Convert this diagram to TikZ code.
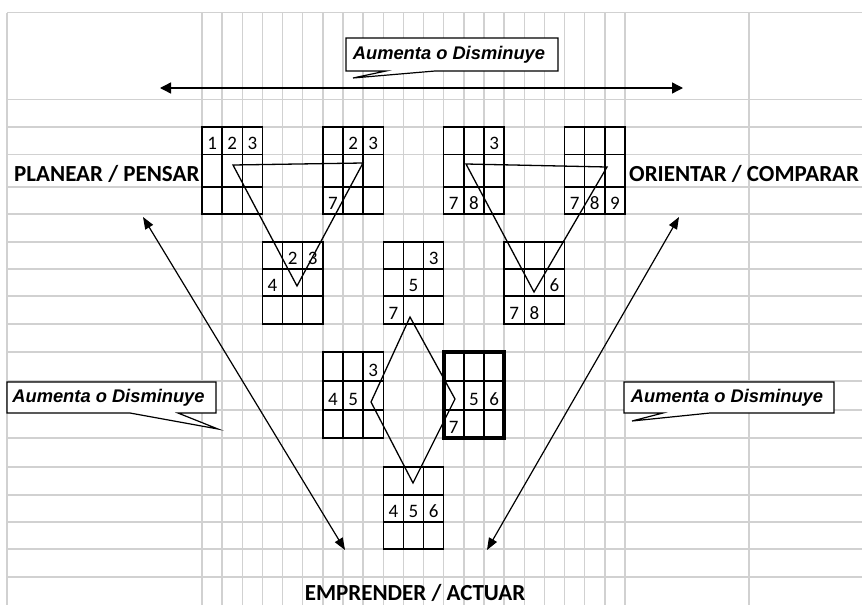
\documentclass[tikz,border=0pt]{standalone}
\usepackage{fontspec}
\setmainfont{Carlito}
\newfontfamily\arialf{Liberation Sans}
\usetikzlibrary{arrows.meta}
\tikzset{
  gridline/.style={draw=black!18, line width=1.4pt},
  cellline/.style={draw=black, line width=1.5pt},
  thickcell/.style={line width=4pt},
  digit/.style={anchor=base, inner sep=0pt, font=\fontsize{19}{19}\selectfont},
  biglabel/.style={inner sep=0pt, font=\bfseries\fontsize{23}{23}\selectfont},
  calltext/.style={inner sep=0pt, font=\arialf\bfseries\itshape\fontsize{18.3}{18.3}\selectfont},
  callshape/.style={draw=black, line width=1.2pt, fill=white, line join=miter},
  vline/.style={draw=black, line width=1.3pt},
  bigarrow/.style={draw=black, line width=1.4pt, {Triangle[length=11pt,width=11pt]}-{Triangle[length=11pt,width=11pt]}},
  diagarrow/.style={draw=black, line width=1.2pt, {Triangle[length=12pt,width=9pt]}-{Triangle[length=12pt,width=9pt]}}
}
\newcommand\mgrid[6][]{%
  \pgfmathsetmacro\gxa{202+20.143*#2}%
  \pgfmathsetmacro\gxb{\gxa+20.143}%
  \pgfmathsetmacro\gxc{\gxa+40.286}%
  \pgfmathsetmacro\gxd{\gxa+60.429}%
  \draw[cellline] (\gxb,#3) -- (\gxb,#6) (\gxc,#3) -- (\gxc,#6) (\gxa,#4) -- (\gxd,#4) (\gxa,#5) -- (\gxd,#5);
  \draw[cellline,#1] (\gxa,#3) rectangle (\gxd,#6);
}
\newcommand\dg[4]{\node[digit] (#1) at ({202+20.143*(#2+0.5)},{#3-4.8}) {#4};}
\begin{document}
\begin{tikzpicture}[x=1pt,y=-1pt]
\useasboundingbox (0,0) rectangle (862,605);
\fill[white] (0,0) rectangle (862,605);
% background spreadsheet grid
\foreach \y in {12.5,99.5,127,154.5,187,214,242,269,296,324,352,381,410,438,467,495,522,549,577}
  \draw[gridline] (7,\y) -- (862,\y);
\draw[gridline] (7,12.5) -- (7,605);
\foreach \i in {0,...,21}
  \draw[gridline] ({202+20.143*\i},12.5) -- ({202+20.143*\i},605);
\draw[gridline] (749,12.5) -- (749,605);

% mini grids
\mgrid{0}{127}{154.5}{187}{214}
\mgrid{6}{127}{154.5}{187}{214}
\mgrid{12}{127}{154.5}{187}{214}
\mgrid{18}{127}{154.5}{187}{214}
\mgrid{3}{242}{269}{296}{324}
\mgrid{9}{242}{269}{296}{324}
\mgrid{15}{242}{269}{296}{324}
\mgrid{6}{352}{381}{410}{438}
\mgrid[thickcell]{12}{352}{381}{410}{438}
\mgrid{9}{467}{495}{522}{549}

% digits
\dg{a1}{0}{154.5}{1}\dg{a2}{1}{154.5}{2}\dg{a3}{2}{154.5}{3}
\dg{b2}{7}{154.5}{2}\dg{b3}{8}{154.5}{3}\dg{b7}{6}{214}{7}
\dg{c3}{14}{154.5}{3}\dg{c7}{12}{214}{7}\dg{c8}{13}{214}{8}
\dg{d7}{18}{214}{7}\dg{d8}{19}{214}{8}\dg{d9}{20}{214}{9}
\dg{e2}{4}{269}{2}\dg{e3}{5}{269}{3}\dg{e4}{3}{296}{4}
\dg{f3}{11}{269}{3}\dg{f5}{10}{296}{5}\dg{f7}{9}{324}{7}
\dg{g6}{17}{296}{6}\dg{g7}{15}{324}{7}\dg{g8}{16}{324}{8}
\dg{h3}{8}{381}{3}\dg{h4}{6}{410}{4}\dg{h5}{7}{410}{5}
\dg{i5}{13}{410}{5}\dg{i6}{14}{410}{6}\dg{i7}{12}{438}{7}
\dg{j4}{9}{522}{4}\dg{j5}{10}{522}{5}\dg{j6}{11}{522}{6}

% triangles and diamond
\coordinate (t1a) at (233,165); \coordinate (t1b) at (363,163); \coordinate (t1c) at (297,286);
\draw[vline] (t1a) -- (t1b) -- (t1c) -- cycle;
\coordinate (t2a) at (466,164); \coordinate (t2b) at (607,167); \coordinate (t2c) at (534,292);
\draw[vline] (t2a) -- (t2b) -- (t2c) -- cycle;
\coordinate (dt) at (410,317); \coordinate (dr) at (455,399); \coordinate (db) at (413,483); \coordinate (dl) at (371,402);
\draw[vline] (dt) -- (dr) -- (db) -- (dl) -- cycle;

% labels
\node[biglabel, anchor=base west] (plan) at (14,181) {PLANEAR / PENSAR};
\node[biglabel, anchor=base west] (orie) at (629,181) {ORIENTAR / COMPARAR};
\node[biglabel, anchor=base] (empr) at (415,600) {EMPRENDER / ACTUAR};

% arrows
\coordinate (hl) at (160,88); \coordinate (hr) at (683,88);
\draw[bigarrow] (hl) -- (hr);
\coordinate (lu) at (143,217); \coordinate (ld) at (345,550);
\draw[diagarrow] (lu) -- (ld);
\coordinate (ru) at (679,217); \coordinate (rd) at (487,550);
\draw[diagarrow] (ru) -- (rd);

% callouts
\draw[callshape] (346,38) -- (558,38) -- (558,71) -- (435,71) -- (353,78) -- (386,71) -- (346,71) -- cycle;
\node[calltext] (ct) at (449,55) {Aumenta o Disminuye};
\draw[callshape] (7,382) -- (216,382) -- (216,413) -- (178,413) -- (218,429) -- (130,413) -- (7,413) -- cycle;
\node[calltext] (cl) at (108.5,398) {Aumenta o Disminuye};
\draw[callshape] (624,382) -- (834,382) -- (834,413) -- (710,413) -- (632,421) -- (663,413) -- (624,413) -- cycle;
\node[calltext] (cr) at (727,398) {Aumenta o Disminuye};
\end{tikzpicture}
\end{document}
